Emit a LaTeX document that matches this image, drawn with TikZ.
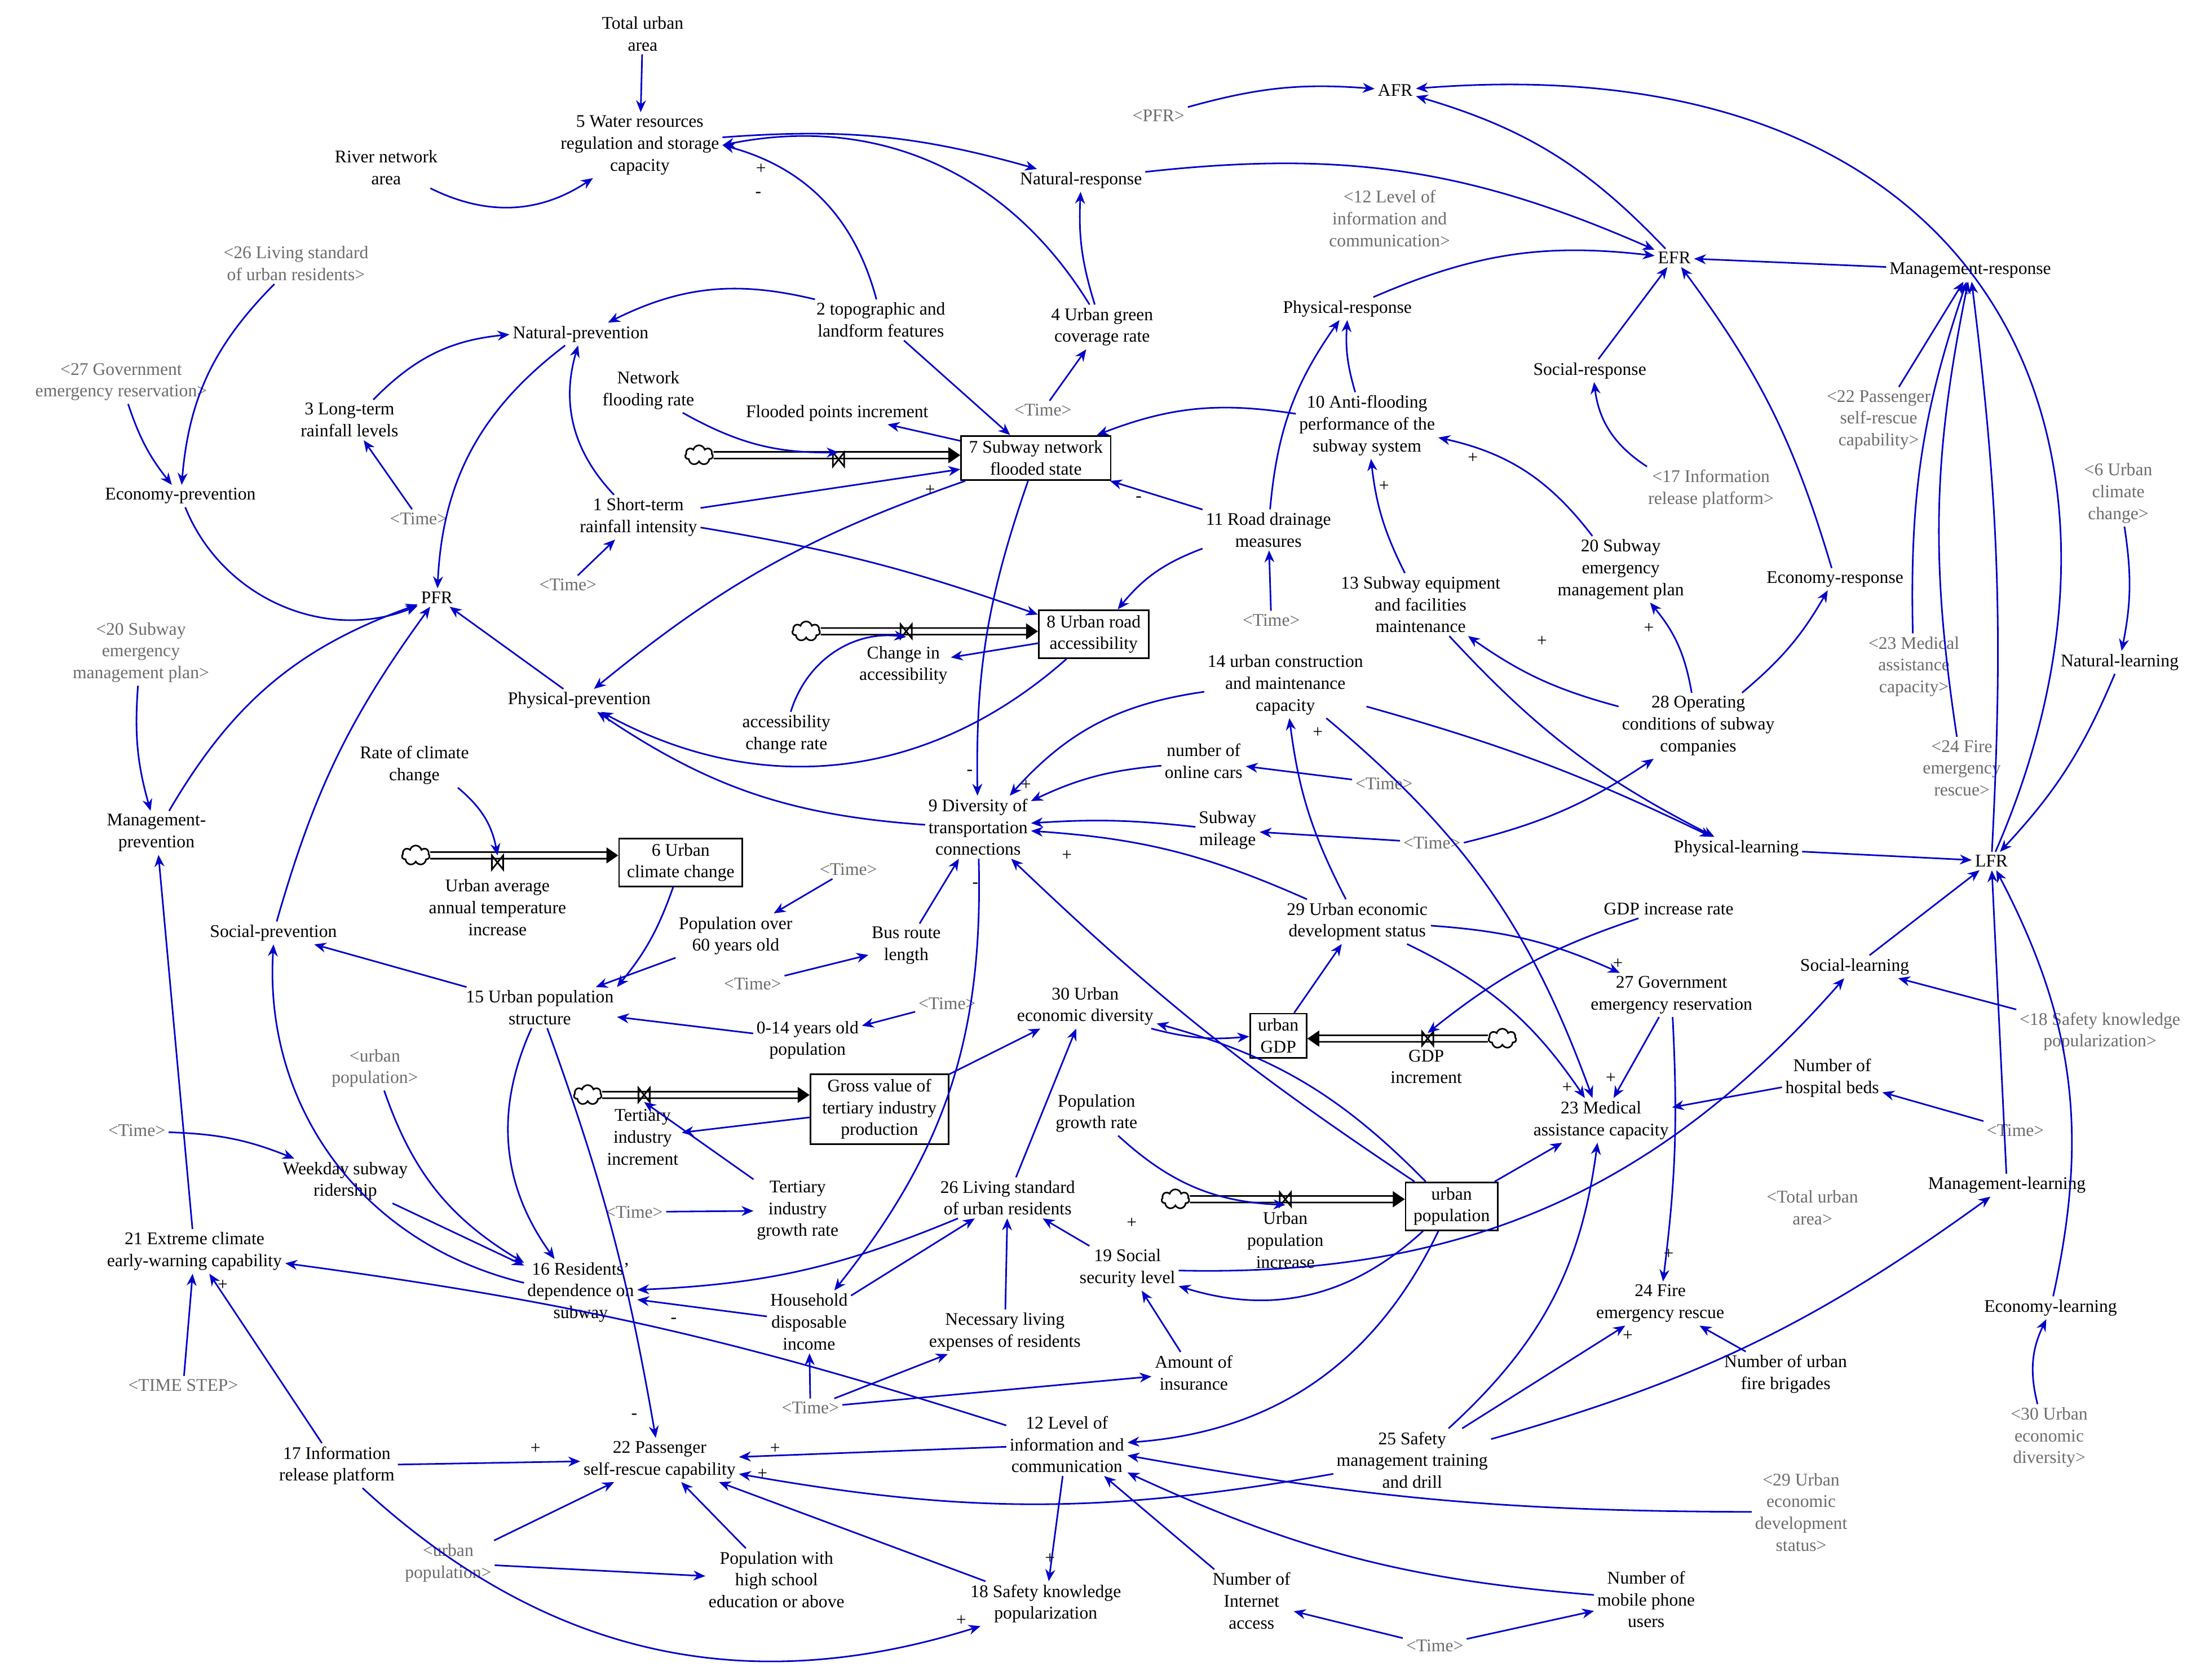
\documentclass[tikz,border=0pt]{standalone}
\usepackage{fontspec}
\setmainfont{Liberation Serif}
\usetikzlibrary{arrows.meta,shapes.symbols}
\definecolor{ab}{RGB}{0,0,200}
\begin{document}
\begin{tikzpicture}[x=0.025cm,y=-0.025cm,
 every node/.style={font=\fontsize{9}{11}\selectfont,align=center,inner sep=1.5pt},
 v/.style={},
 s/.style={text=gray!85!black},
 st/.style={draw,thick,inner sep=2.5pt,inner xsep=4pt},
 ar/.style={ab,thick,-{Stealth[length=6pt,width=5pt]}},
 pipe/.style={double=white,double distance=2.5pt,thick,-{Triangle[length=6pt,width=8pt]}},
 cl/.style={cloud,draw,cloud puffs=7,minimum width=14pt,minimum height=10pt,inner sep=0pt,thick},
 sg/.style={font=\fontsize{9}{9}\selectfont,inner sep=0pt},
 valve/.pic={\draw[thick] (-4,-5)--(4,5)--(4,-5)--(-4,5)--cycle;}]
\useasboundingbox (0,0) rectangle (1561,1192);
% nodes
\node[v] (tua) at (456,24) {Total urban\\area};
\node[v] (wr5) at (454,103) {5 Water resources\\regulation and storage\\capacity};
\node[v] (rna) at (274,119) {River network\\area};
\node[v] (nr) at (767,128) {Natural-response};
\node[v] (afr) at (990,64) {AFR};
\node[s] (pfrS) at (822,82) {<PFR>};
\node[s] (lic12S) at (986,155) {<12 Level of\\information and\\communication>};
\node[v] (efr) at (1188,183) {EFR};
\node[v] (mr) at (1398,192) {Management-response};
\node[v] (pr) at (956,219) {Physical-response};
\node[v] (t2) at (625,227) {2 topographic and\\landform features};
\node[v] (ug4) at (782,232) {4 Urban green\\coverage rate};
\node[s] (lsS26) at (210,187) {<26 Living standard\\of urban residents>};
\node[v] (np) at (412,237) {Natural-prevention};
\node[s] (ger27S) at (86,271) {<27 Government\\emergency reservation>};
\node[v] (r3) at (248,298) {3 Long-term\\rainfall levels};
\node[v] (nfr) at (460,277) {Network\\flooding rate};
\node[v] (fpi) at (594,293) {Flooded points increment};
\node[s] (time1) at (740,291) {<Time>};
\node[v] (af10) at (970,302) {10 Anti-flooding\\performance of the\\subway system};
\node[v] (sr) at (1128,263) {Social-response};
\node[s] (ps22S) at (1333,298) {<22 Passenger\\self-rescue\\capability>};
\node[st] (sf7) at (735,325) {7 Subway network\\flooded state};
\node[v] (ep) at (128,352) {Economy-prevention};
\node[s] (time2) at (297,368) {<Time>};
\node[v] (s1) at (453,367) {1 Short-term\\rainfall intensity};
\node[v] (rd11) at (900,376) {11 Road drainage\\measures};
\node[s] (irp17S) at (1214,347) {<17 Information\\release platform>};
\node[s] (uc6S) at (1503,350) {<6 Urban\\climate\\change>};
\node[s] (time3) at (403,415) {<Time>};
\node[v] (pfr) at (310,424) {PFR};
\node[v] (sub13) at (1008,429) {13 Subway equipment\\and facilities\\maintenance};
\node[v] (sem20) at (1150,404) {20 Subway\\emergency\\management plan};
\node[v] (er) at (1302,411) {Economy-response};
\node[s] (sem20S) at (100,463) {<20 Subway\\emergency\\management plan>};
\node[st] (ura8) at (776,450) {8 Urban road\\accessibility};
\node[v] (cia) at (641,472) {Change in\\accessibility};
\node[s] (time4) at (902,440) {<Time>};
\node[s] (mac23S) at (1358,473) {<23 Medical\\assistance\\capacity>};
\node[v] (nl) at (1504,470) {Natural-learning};
\node[v] (ppv) at (411,497) {Physical-prevention};
\node[v] (acr) at (558,521) {accessibility\\change rate};
\node[v] (uc14) at (912,486) {14 urban construction\\and maintenance\\capacity};
\node[v] (oc28) at (1205,515) {28 Operating\\conditions of subway\\companies};
\node[s] (fer24S) at (1392,545) {<24 Fire\\emergency\\rescue>};
\node[v] (rcc) at (294,543) {Rate of climate\\change};
\node[v] (noc) at (854,540) {number of\\online cars};
\node[s] (time5) at (982,556) {<Time>};
\node[v] (dt9) at (694,587) {9 Diversity of\\transportation\\connections};
\node[v] (mp) at (111,591) {Management-\\prevention};
\node[v] (sm) at (871,589) {Subway\\mileage};
\node[s] (time6) at (1016,598) {<Time>};
\node[v] (pl) at (1232,602) {Physical-learning};
\node[v] (lfr) at (1413,611) {LFR};
\node[st] (ucc6) at (483,612) {6 Urban\\climate change};
\node[v] (uat) at (353,644) {Urban average\\annual temperature\\increase};
\node[s] (time7) at (602,617) {<Time>};
\node[v] (p60) at (522,664) {Population over\\60 years old};
\node[v] (brl) at (643,671) {Bus route\\length};
\node[v] (ued29) at (963,654) {29 Urban economic\\development status};
\node[v] (gdpr) at (1184,645) {GDP increase rate};
\node[v] (spv) at (194,662) {Social-prevention};
\node[s] (time8) at (534,698) {<Time>};
\node[v] (ups15) at (383,715) {15 Urban population\\structure};
\node[v] (p014) at (573,738) {0-14 years old\\population};
\node[s] (time9) at (672,712) {<Time>};
\node[v] (ued30) at (770,714) {30 Urban\\economic diversity};
\node[st] (ugdp) at (907,735) {urban\\GDP};
\node[v] (gdpi) at (1012,757) {GDP\\increment};
\node[v] (ger27) at (1186,706) {27 Government\\emergency reservation};
\node[v] (sl) at (1316,686) {Social-learning};
\node[s] (skp18S) at (1490,732) {<18 Safety knowledge\\popularization>};
\node[s] (upS1) at (266,758) {<urban\\population>};
\node[st,inner xsep=6pt] (gvt) at (624,787) {Gross value of\\tertiary industry\\production};
\node[v] (tii) at (456,807) {Tertiary\\industry\\increment};
\node[v] (pgr) at (778,790) {Population\\growth rate};
\node[v] (nhb) at (1300,765) {Number of\\hospital beds};
\node[v] (mac23) at (1136,795) {23 Medical\\assistance capacity};
\node[s] (time10) at (97,802) {<Time>};
\node[s] (time11) at (1430,802) {<Time>};
\node[v] (wsr) at (245,838) {Weekday subway\\ridership};
\node[v] (ml) at (1424,841) {Management-learning};
\node[v] (tigr) at (566,859) {Tertiary\\industry\\growth rate};
\node[v] (ls26) at (715,850) {26 Living standard\\of urban residents};
\node[st] (up) at (1030,856) {urban\\population};
\node[s] (tuaS) at (1286,857) {<Total urban\\area>};
\node[s] (time12) at (450,860) {<Time>};
\node[v] (uei) at (912,880) {Urban\\population\\increase};
\node[v] (ec21) at (138,888) {21 Extreme climate\\early-warning capability};
\node[v] (ss19) at (800,900) {19 Social\\security level};
\node[v] (rd16) at (412,917) {16 Residents'\\dependence on\\subway};
\node[v] (fer24) at (1178,925) {24 Fire\\emergency rescue};
\node[v] (el) at (1455,928) {Economy-learning};
\node[v] (hdi) at (574,938) {Household\\disposable\\income};
\node[v] (nle) at (713,945) {Necessary living\\expenses of residents};
\node[v] (aoi) at (847,974) {Amount of\\insurance};
\node[v] (nuf) at (1267,975) {Number of urban\\fire brigades};
\node[s] (ts) at (130,983) {<TIME STEP>};
\node[s] (time13) at (575,999) {<Time>};
\node[v] (lic12) at (757,1025) {12 Level of\\information and\\communication};
\node[v] (smt25) at (1002,1036) {25 Safety\\management training\\and drill};
\node[s] (ued29S) at (1278,1073) {<29 Urban\\economic\\development\\status>};
\node[s] (ued30S) at (1454,1020) {<30 Urban\\economic\\diversity>};
\node[v] (irp17) at (239,1040) {17 Information\\release platform};
\node[v] (ps22) at (468,1036) {22 Passenger\\self-rescue capability};
\node[s] (upS2) at (318,1109) {<urban\\population>};
\node[v] (phs) at (551,1121) {Population with\\high school\\education or above};
\node[v] (skp18) at (742,1138) {18 Safety knowledge\\popularization};
\node[v] (nia) at (888,1136) {Number of\\Internet\\access};
\node[v] (nmp) at (1168,1135) {Number of\\mobile phone\\users};
\node[s] (time14) at (1018,1168) {<Time>};
% clouds, pipes, valves
\node[cl] (c1) at (496,323) {};
\node[cl] (c2) at (572,448) {};
\node[cl] (c3) at (295,607) {};
\node[cl] (c4) at (417,777) {};
\node[cl] (c5) at (1066,737) {};
\node[cl] (c6) at (834,851) {};
\draw[pipe] (c1) -- (sf7.west|-c1);
\draw[pipe] (c2) -- (ura8.west|-c2);
\draw[pipe] (c3) -- (ucc6.west|-c3);
\draw[pipe] (c4) -- (gvt.west|-c4);
\draw[pipe] (c5) -- (ugdp.east|-c5);
\draw[pipe] (c6) -- (up.west|-c6);
\pic at (595,326) {valve};
\pic at (643,448) {valve};
\pic at (353,612) {valve};
\pic at (457,777) {valve};
\pic at (1013,737) {valve};
\pic at (912,851) {valve};
% edges
\draw[ar] (tua) -- (wr5);
\draw[ar] (rna) to[bend right=30] (wr5);
\draw[ar] (wr5) to[bend left=10] (nr);
\draw[ar] (t2) to[bend right=30] (wr5.east);
\draw[ar] (ug4) to[bend right=35] (wr5.east);
\draw[ar] (ug4) to[bend left=10] (nr);
\draw[ar] (nr) to[bend left=15] (efr);
\draw[ar] (pfrS) to[bend left=10] (afr);
\draw[ar] (efr) to[bend right=15] (afr);
\draw[ar] (mr) -- (efr);
\draw[ar] (pr) to[bend left=15] (efr);
\draw[ar] (sr) -- (efr);
\draw[ar] (er) to[bend right=10] (efr);
\draw[ar] (af10) to[bend left=10] (pr);
\draw[ar] (rd11) to[bend left=15] (pr);
\draw[ar] (time1) -- (ug4);
\draw[ar] (t2) to[bend right=20] (np);
\draw[ar] (t2) -- (sf7);
\draw[ar] (np) to[bend right=25] (pfr);
\draw[ar] (s1) to[bend left=30] (np);
\draw[ar] (r3) to[bend left=20] (np);
\draw[ar] (time2) -- (r3);
\draw[ar] (s1) -- (sf7);
\draw[ar] (nfr) to[bend right=15] (595,321);
\draw[ar] (sf7) -- (fpi);
\draw[ar] (af10) to[bend right=15] (sf7);
\draw[ar] (rd11) -- (sf7);
\draw[ar] (s1) to[bend left=5] (ura8);
\draw[ar] (rd11) to[bend right=15] (ura8);
\draw[ar] (ura8) -- (cia);
\draw[ar] (acr) to[bend left=40] (643,452);
\draw[ar] (sf7) to[bend right=10] (ppv);
\draw[ar] (sf7) to[bend right=10] (dt9);
\draw[ar] (ura8) to[bend left=35] (ppv);
\draw[ar] (ppv) -- (pfr);
\draw[ar] (ep) to[bend right=45] (pfr);
\draw[ar] (mp) to[bend left=20] (pfr);
\draw[ar] (spv) to[bend left=10] (pfr);
\draw[ar] (lsS26) to[bend right=20] (ep);
\draw[ar] (ger27S) to[bend right=10] (ep);
\draw[ar] (sem20S) to[bend right=10] (mp);
\draw[ar] (time3) -- (s1);
\draw[ar] (ps22S) -- (mr);
\draw[ar] (mac23S) to[bend left=10] (mr);
\draw[ar] (fer24S) to[bend left=10] (mr);
\draw[ar] (uc6S) to[bend left=10] (nl);
\draw[ar] (nl) to[bend left=10] (lfr);
\draw[ar] (irp17S) to[bend left=25] (sr);
\draw[ar] (sub13) to[bend left=10] (af10);
\draw[ar] (sem20) to[bend right=20] (af10);
\draw[ar] (oc28) to[bend right=15] (sem20);
\draw[ar] (oc28) to[bend left=10] (sub13);
\draw[ar] (oc28) to[bend right=10] (er);
\draw[ar] (uc14) to[bend right=20] (dt9);
\draw[ar] (uc14) to[bend left=5] (pl);
\draw[ar] (uc14) to[bend left=15] (mac23);
\draw[ar] (time4) -- (rd11);
\draw[ar] (dt9) to[bend left=15] (ppv);
\draw[ar] (noc) to[bend right=10] (dt9);
\draw[ar] (sm) to[bend right=5] (dt9);
\draw[ar] (time5) -- (noc);
\draw[ar] (time6) -- (sm);
\draw[ar] (sub13) to[bend right=10] (pl);
\draw[ar] (pl) -- (lfr);
\draw[ar] (time6.east) to[bend right=10] (oc28);
\draw[ar] (ued29) to[bend right=10] (dt9);
\draw[ar] (ued29) to[bend left=10] (ger27);
\draw[ar] (ued29) to[bend left=15] (mac23);
\draw[ar] (ued29) to[bend left=10] (uc14);
\draw[ar] (gdpr) to[bend right=10] (1013,733);
\draw[ar] (ugdp) -- (ued29);
\draw[ar] (up) to[bend left=5] (dt9);
\draw[ar] (brl) -- (dt9);
\draw[ar] (time7) -- (p60);
\draw[ar] (p60) -- (ups15);
\draw[ar] (time8) -- (brl);
\draw[ar] (p014) -- (ups15);
\draw[ar] (time9) -- (p014);
\draw[ar] (ups15) -- (spv);
\draw[ar] (ups15) to[bend right=30] (rd16);
\draw[ar] (ups15) to[bend left=5] (ps22);
\draw[ar] (ucc6) to[bend left=10] (ups15.north east);
\draw[ar] (rcc) to[bend left=20] (353,607);
\draw[ar] (gvt) -- (tii);
\draw[ar] (tigr) -- (457,782);
\draw[ar] (time12) -- (tigr);
\draw[ar] (gvt) -- (ued30);
\draw[ar] (ls26) -- (ued30);
\draw[ar] (ued30) to[bend right=10] (ugdp);
\draw[ar] (up) to[bend right=15] (ued30);
\draw[ar] (up) -- (mac23);
\draw[ar] (up) to[bend left=30] (lic12);
\draw[ar] (up) to[bend left=30] (ss19);
\draw[ar] (pgr) to[bend right=20] (912,855);
\draw[ar] (ss19) -- (ls26);
\draw[ar] (ls26) to[bend left=10] (rd16);
\draw[ar] (hdi) -- (ls26);
\draw[ar] (nle) -- (ls26);
\draw[ar] (dt9) to[bend left=20] (hdi);
\draw[ar] (hdi) -- (rd16);
\draw[ar] (rd16) to[bend left=40] (spv);
\draw[ar] (wsr) -- (rd16);
\draw[ar] (upS1) to[bend right=20] (rd16);
\draw[ar] (time10) to[bend left=10] (wsr);
\draw[ar] (ec21) -- (mp);
\draw[ar] (ts) -- (ec21);
\draw[ar] (irp17) -- (ec21);
\draw[ar] (lic12) to[bend right=5] (ec21);
\draw[ar] (lic12) -- (ps22);
\draw[ar] (irp17) -- (ps22);
\draw[ar] (upS2) -- (ps22);
\draw[ar] (upS2) -- (phs);
\draw[ar] (phs) -- (ps22);
\draw[ar] (skp18) -- (ps22);
\draw[ar] (irp17) to[bend right=30] (skp18);
\draw[ar] (lic12) -- (skp18);
\draw[ar] (nia) -- (lic12);
\draw[ar] (nmp) to[bend left=10] (lic12);
\draw[ar] (time14) -- (nia);
\draw[ar] (time14) -- (nmp);
\draw[ar] (smt25) to[bend left=10] (ps22);
\draw[ar] (smt25) to[bend right=10] (ml);
\draw[ar] (smt25) -- (fer24);
\draw[ar] (smt25) to[bend right=20] (mac23);
\draw[ar] (ued29S) to[bend left=5] (lic12);
\draw[ar] (ued30S) to[bend left=20] (el);
\draw[ar] (el) to[bend right=20] (lfr);
\draw[ar] (ml) -- (lfr);
\draw[ar] (sl) -- (lfr);
\draw[ar] (skp18S) -- (sl);
\draw[ar] (time11) -- (nhb);
\draw[ar] (nhb) -- (mac23);
\draw[ar] (ger27) -- (mac23);
\draw[ar] (ger27) to[bend left=5] (fer24);
\draw[ar] (nuf) -- (fer24);
\draw[ar] (ss19) to[bend right=25] (sl);
\draw[ar] (time13) -- (hdi);
\draw[ar] (time13) -- (nle);
\draw[ar] (time13) -- (aoi);
\draw[ar] (aoi) -- (ss19);
\draw[ar] (lfr) .. controls (1540,320) and (1420,30) .. (afr);
\draw[ar] (lfr) to[bend right=5] (mr);
% signs
\foreach \x/\y/\t in {540/120/+,538/138/-,660/348/+,808/354/-,1045/325/+,982/345/+,688/548/-,728/557/+,757/607/+,692/628/-,935/520/+,1094/455/+,1170/446/+,1148/684/+,1112/772/+,1143/765/+,1184/890/+,1155/948/+,803/868/+,478/937/-,450/1005/-,380/1028/+,550/1028/+,541/1046/+,745/1106/+,682/1150/+,158/912/+}
 \node[sg] at (\x,\y) {\t};
\end{tikzpicture}
\end{document}
